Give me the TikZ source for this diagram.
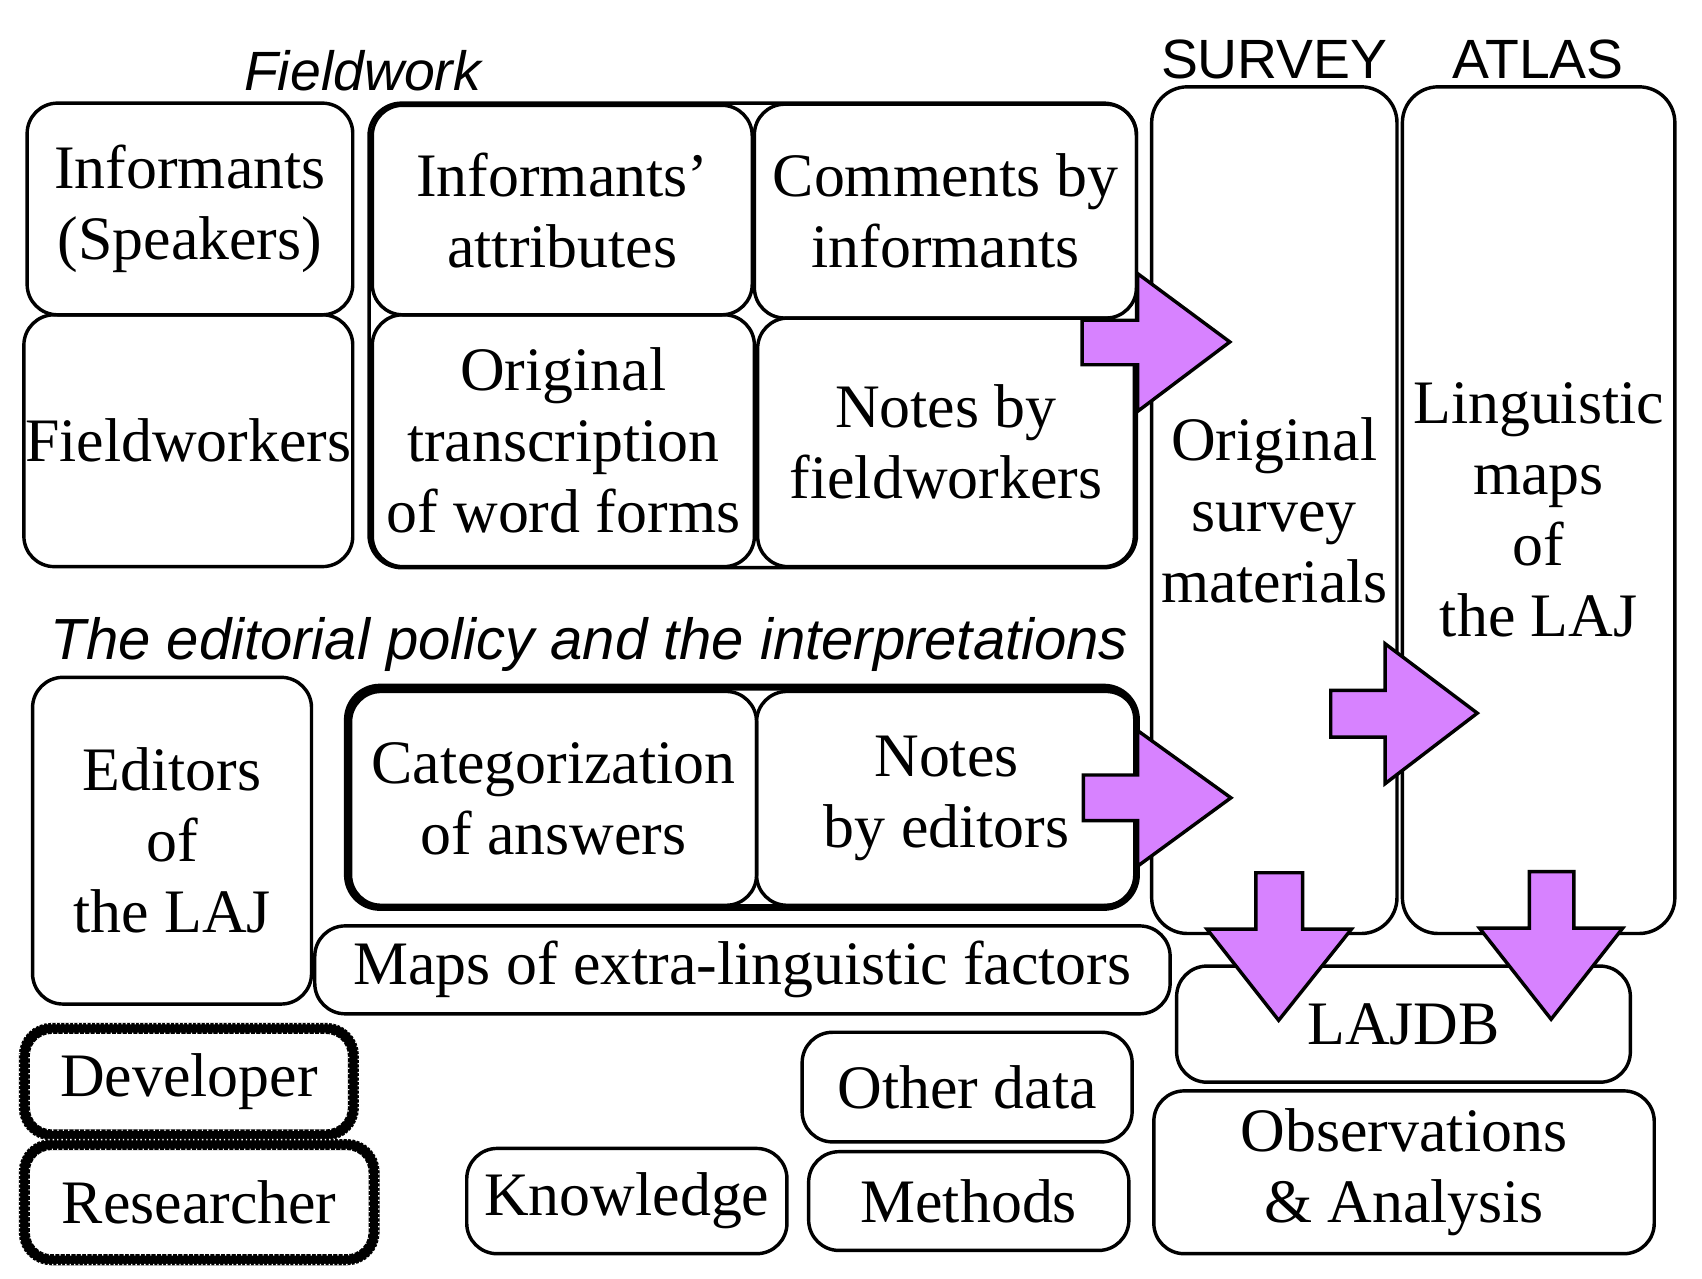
\documentclass[tikz,border=0pt]{standalone}
\usepackage{fontspec}
\setmainfont{Liberation Serif}
\newfontfamily\sansf{Liberation Sans}
\definecolor{arrfill}{RGB}{215,130,255}
\newcommand\bx[7][]{%
  \pgfmathsetmacro\bxcx{(#3+#5)/2}\pgfmathsetmacro\bxcy{(#4+#6)/2}%
  \pgfmathsetmacro\bxw{(#5-#3)*0.01}\pgfmathsetmacro\bxh{(#6-#4)*0.01}%
  \node[box,minimum width=\bxw cm,minimum height=\bxh cm,#1] (#2) at (\bxcx,\bxcy) {#7};}
\newcommand\roughframe[1]{%
  \draw[line width=2.9pt,rounded corners=0.25cm] (#1.north west) rectangle (#1.south east);
  \draw[white,line width=0.4pt,dash pattern=on 0.35pt off 0.8pt,rounded corners=0.28cm]
    ([shift={(-4.5,-4.5)}]#1.north west) rectangle ([shift={(4.5,4.5)}]#1.south east);
  \draw[white,line width=0.4pt,dash pattern=on 0.3pt off 1.1pt,rounded corners=0.22cm]
    ([shift={(4.5,4.5)}]#1.north west) rectangle ([shift={(-4.5,-4.5)}]#1.south east);}
\begin{document}
\begin{tikzpicture}[x=0.01cm,y=-0.01cm,
  box/.style={draw,line width=0.9pt,rounded corners=0.28cm,inner sep=0pt,align=center,
    font=\fontsize{16.2}{18.6}\selectfont},
  frame/.style={draw,line width=0.9pt,rounded corners=0.3cm,inner sep=0pt},
  lbl/.style={font=\sansf\itshape\fontsize{14.5}{17}\selectfont,inner sep=0pt},
  hdr/.style={font=\sansf\fontsize{14.5}{17}\selectfont,inner sep=0pt},
  barrow/.style={draw,line width=0.9pt,fill=arrfill,line join=miter}
]
\useasboundingbox (0,0) rectangle (1568,1178);

% headings
\node[lbl] (fw) at (334,65) {Fieldwork};
\node[hdr] (sv) at (1174,55) {SURVEY};
\node[hdr] (at) at (1417,55) {ATLAS};
\node[lbl,font=\sansf\itshape\fontsize{15.2}{18}\selectfont] (ed) at (543,594) {The editorial policy and the interpretations};

% fieldwork block
\bx{inf}{25}{95}{325}{290}{Informants\\(Speakers)}
\bx{fwk}{22}{290}{325}{522}{Fieldworkers}
\bx[frame]{g1}{340}{95}{1047}{523}{}
\bx{attr}{343}{97}{693}{290}{Informants'\\attributes}
\bx{com}{695}{96}{1047}{293}{Comments by\\informants}
\bx{orig}{343}{290}{695}{522}{Original\\transcription\\of word forms}
\bx{notf}{698}{293}{1045}{522}{Notes by\\fieldworkers}

% survey / atlas columns
\bx[rounded corners=0.33cm]{svm}{1061}{80}{1287}{860}{Original\\survey\\materials}
\bx[rounded corners=0.33cm]{lm}{1292}{80}{1543}{860}{Linguistic\\maps\\of\\the LAJ}

% editorial block
\bx{edt}{30}{624}{287}{925}{Editors\\of\\the LAJ}
\bx[frame,line width=1.8pt]{g2}{320}{633}{1047}{836}{}
\bx{cat}{323}{637}{697}{834}{Categorization\\of answers}
\bx{note}{697}{637}{1047}{834}{Notes\\by editors}
\bx{maps}{290}{853}{1078}{934}{Maps of extra-linguistic factors}

% bottom right
\bx{db}{1084}{890}{1502}{997}{LAJDB}
\bx{obs}{1063}{1005}{1524}{1155}{Observations\\\& Analysis}

% bottom middle
\bx{oth}{739}{951}{1043}{1052}{Other data}
\bx{meth}{745}{1061}{1040}{1152}{Methods}
\bx{know}{430}{1058}{725}{1155}{Knowledge}

% roles
\bx[draw=none]{dev}{24}{949}{324}{1044}{Developer}
\bx[draw=none]{res}{24}{1056}{343}{1159}{Researcher}
\roughframe{dev}
\roughframe{res}

% block arrows
\draw[barrow] (997,295) -- (1048,295) -- (1048,252) -- (1133,315) -- (1048,379) -- (1048,336) -- (997,336) -- cycle;
\draw[barrow] (998,714) -- (1048,714) -- (1048,673) -- (1134,735) -- (1048,798) -- (1048,756) -- (998,756) -- cycle;
\draw[barrow] (1226,636) -- (1276,636) -- (1276,593) -- (1361,657) -- (1276,722) -- (1276,679) -- (1226,679) -- cycle;
\draw[barrow] (1157,804) -- (1200,804) -- (1200,856) -- (1245,856) -- (1178,940) -- (1112,856) -- (1157,856) -- cycle;
\draw[barrow] (1409,803) -- (1450,803) -- (1450,855) -- (1495,855) -- (1429,939) -- (1363,855) -- (1409,855) -- cycle;
\end{tikzpicture}
\end{document}
